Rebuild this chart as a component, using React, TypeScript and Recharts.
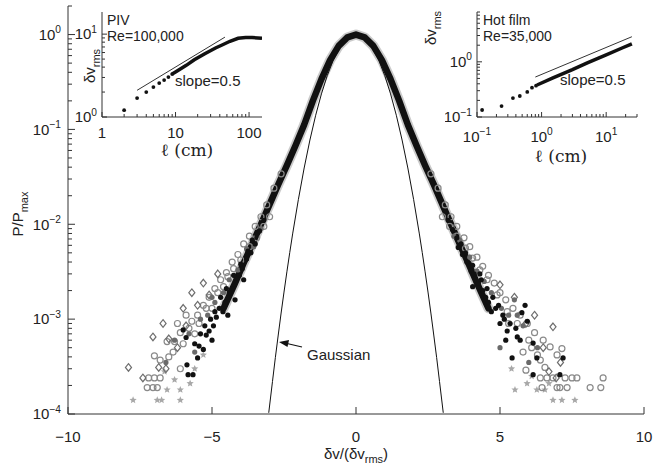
import React from 'react';
import { ComposedChart, Line, Scatter, XAxis, YAxis } from 'recharts';

const FONT = '"Liberation Sans", Arial, Helvetica, sans-serif';
const SERIF = '"DejaVu Serif", "Liberation Serif", serif';
const INK = '#222';
const FRAME = '#333';

// ---------------- main panel ----------------
const mainXTicks = [-10, -5, 0, 5, 10];
const mainXTopTicks = [-5, 0, 5];
const mainYMajor = [1e-4, 1e-3, 1e-2, 1e-1, 1];
const mainYTicks = [
  1e-4, 2e-4, 3e-4, 4e-4, 5e-4, 6e-4, 7e-4, 8e-4, 9e-4,
  1e-3, 2e-3, 3e-3, 4e-3, 5e-3, 6e-3, 7e-3, 8e-3, 9e-3,
  1e-2, 2e-2, 3e-2, 4e-2, 5e-2, 6e-2, 7e-2, 8e-2, 9e-2,
  1e-1, 2e-1, 3e-1, 4e-1, 5e-1, 6e-1, 7e-1, 8e-1, 9e-1,
  1, 2,
];

// collapsed PDF band (dense centre of all data sets)
const bandX = [-4.6, -4.2, -3.9, -3.6, -3.3, -3.0, -2.7, -2.4, -2.1, -1.8, -1.5, -1.2, -0.9, -0.6, -0.3, 0, 0.3, 0.6, 0.9, 1.2, 1.5, 1.8, 2.1, 2.4, 2.7, 3.0, 3.3, 3.6, 3.9, 4.2, 4.6];
const bandP = [0.0013, 0.0024, 0.0039, 0.0062, 0.01, 0.0162, 0.0263, 0.0417, 0.0676, 0.112, 0.2, 0.339, 0.537, 0.759, 0.933, 1.0, 0.933, 0.759, 0.537, 0.339, 0.2, 0.112, 0.0676, 0.0417, 0.0263, 0.0162, 0.01, 0.0062, 0.0039, 0.0024, 0.0013];

// Gaussian reference curve
const gaussX = [-3.03, -2.9, -2.8, -2.7, -2.6, -2.5, -2.4, -2.3, -2.2, -2.0, -1.8, -1.6, -1.4, -1.2, -1.0, -0.8, -0.6, -0.4, -0.2, 0, 0.2, 0.4, 0.6, 0.8, 1.0, 1.2, 1.4, 1.6, 1.8, 2.0, 2.2, 2.3, 2.4, 2.5, 2.6, 2.7, 2.8, 2.9, 3.03];
const gaussP = [1.03e-4, 2.2e-4, 3.94e-4, 6.8e-4, 1.16e-3, 1.93e-3, 3.15e-3, 5.04e-3, 7.91e-3, 0.0183, 0.0392, 0.0773, 0.141, 0.237, 0.368, 0.527, 0.698, 0.852, 0.961, 1, 0.961, 0.852, 0.698, 0.527, 0.368, 0.237, 0.141, 0.0773, 0.0392, 0.0183, 7.91e-3, 5.04e-3, 3.15e-3, 1.93e-3, 1.16e-3, 6.8e-4, 3.94e-4, 2.2e-4, 1.03e-4];

// tail markers, [x, P/Pmax]
const blackDots: number[][] = [
  [-3.5, 0.0062], [-3.65, 0.005], [-3.8, 0.0043], [-3.95, 0.0034], [-4.05, 0.0029], [-4.15, 0.0027], [-4.3, 0.0021], [-4.4, 0.0019], [-4.55, 0.0015], [-4.62, 0.0012], [-4.75, 0.0013], [-4.85, 0.00105], [-4.95, 0.00085], [-5.0, 0.0006], [-5.1, 0.00075], [-5.2, 0.00068], [-5.3, 0.00048], [-5.45, 0.00052], [-5.5, 0.00039], [-5.66, 0.00026], [-5.83, 0.00026], [-5.87, 0.00033], [-5.9, 0.00064], [-6.0, 0.00077], [-4.45, 0.0011], [-4.2, 0.0016], [-3.9, 0.0026],
  [-3.2, 0.011], [-3.35, 0.0085], [-3.45, 0.0078], [-3.6, 0.0068], [-3.75, 0.0052], [-4.0, 0.0038], [-4.25, 0.0029], [-4.5, 0.0021], [-4.7, 0.0017], [-4.9, 0.0012], [-5.05, 0.001], [-5.25, 0.00085], [-5.4, 0.0007], [-5.6, 0.00055],
  [3.55, 0.0057], [3.7, 0.0048], [3.85, 0.004], [4.0, 0.0032], [4.1, 0.003], [4.25, 0.0024], [4.35, 0.0026], [4.5, 0.0017], [4.6, 0.0015], [4.7, 0.0012], [4.85, 0.0013], [5.0, 0.0009], [5.1, 0.0011], [5.25, 0.00075], [5.42, 0.00039], [5.6, 0.00065], [5.76, 0.00117], [5.87, 0.0014], [6.15, 0.00056], [6.28, 0.00039], [7.19, 0.00039], [6.15, 0.00026], [7.08, 0.00026], [5.2, 0.0006], [4.4, 0.002], [4.05, 0.0022],
  [3.2, 0.011], [3.35, 0.0088], [3.5, 0.0072], [3.65, 0.0062], [3.8, 0.005], [4.05, 0.0037], [4.3, 0.003], [4.55, 0.0021], [4.75, 0.0017], [4.95, 0.0014], [5.15, 0.001], [5.35, 0.0009], [5.55, 0.0008], [5.7, 0.0006], [5.95, 0.00095],
];
const greyCircles: number[][] = [
  [-2.6, 0.034], [-2.85, 0.024], [-3.1, 0.016], [-3.3, 0.012], [-3.5, 0.0095], [-3.7, 0.0075], [-3.9, 0.0062], [-4.1, 0.0048], [-4.3, 0.004], [-4.5, 0.0031], [-4.7, 0.0026], [-4.9, 0.0021], [-5.1, 0.0017], [-5.3, 0.0014], [-5.5, 0.0011], [-5.7, 0.00095], [-5.9, 0.0011], [-6.1, 0.00072], [-6.3, 0.00058], [-6.56, 0.00058], [-6.8, 0.00037], [-7.0, 0.00041], [-6.35, 0.00045], [-6.1, 0.0003], [-7.2, 0.00024], [-7.0, 0.00024], [-6.8, 0.00024], [-7.25, 0.00019], [-7.05, 0.00019], [-6.9, 0.00019], [-4.6, 0.0022], [-5.0, 0.0013], [-5.6, 0.0007],
  [-3.0, 0.012], [-3.2, 0.0095], [-3.45, 0.0072], [-3.7, 0.0058], [-4.0, 0.0042], [-4.25, 0.0034], [-4.45, 0.0028], [-4.8, 0.0019], [-5.2, 0.0013], [-5.45, 0.0009], [-5.8, 0.0008], [-6.0, 0.00055], [-6.5, 0.0004], [-6.2, 0.0009],
  [2.6, 0.034], [2.85, 0.024], [3.1, 0.016], [3.3, 0.012], [3.5, 0.0095], [3.75, 0.0072], [3.95, 0.0058], [4.2, 0.0045], [4.4, 0.0036], [4.6, 0.0029], [4.8, 0.0024], [5.0, 0.0019], [5.2, 0.0016], [5.45, 0.0013], [5.7, 0.0011], [5.95, 0.0009], [6.2, 0.00072], [6.74, 0.00051], [7.15, 0.00049], [6.98, 0.00042], [6.4, 0.00037], [6.56, 0.00031], [5.9, 0.00029], [6.4, 0.00024], [6.63, 0.00024], [6.84, 0.00024], [7.26, 0.00024], [7.5, 0.00024], [7.67, 0.00024], [8.58, 0.00024], [8.13, 0.00019], [8.5, 0.00019], [6.46, 0.00019], [6.98, 0.00019], [7.08, 0.00019], [7.33, 0.00019], [6.5, 0.0006], [5.3, 0.0009],
  [3.0, 0.012], [3.25, 0.0095], [3.5, 0.0075], [3.8, 0.0056], [4.05, 0.0044], [4.3, 0.0033], [4.55, 0.0026], [4.9, 0.0018], [5.25, 0.0012], [5.6, 0.0009], [6.0, 0.0006], [6.3, 0.00042], [5.8, 0.00045], [6.1, 0.0005],
];
const greyDiamonds: number[][] = [
  [-7.9, 0.00031], [-7.05, 0.00065], [-6.7, 0.0009], [-6.5, 0.00062], [-6.2, 0.0005], [-5.9, 0.00085], [-5.5, 0.0014], [-5.1, 0.0018], [-6.85, 0.00031], [-6.0, 0.0013], [-5.7, 0.0019], [-5.3, 0.0024], [-4.8, 0.003], [-7.4, 0.00024], [-6.6, 0.0003],
  [6.84, 0.00083], [6.5, 0.0005], [5.9, 0.0009], [6.2, 0.0011], [5.5, 0.0017], [7.1, 0.00035], [6.95, 0.00024], [5.0, 0.0023], [6.7, 0.00028],
];
const greyStars: number[][] = [
  [-7.74, 0.00014], [-6.9, 0.00014], [-6.75, 0.00014], [-6.1, 0.00014], [-6.56, 0.00018], [-6.1, 0.00018], [-5.76, 0.00021], [-6.3, 0.00023], [-6.65, 0.00028], [-5.6, 0.0003], [-5.3, 0.00042],
  [5.52, 0.00018], [6.28, 0.00018], [6.56, 0.00018], [6.84, 0.00014], [7.15, 0.00014], [7.6, 0.00014], [5.94, 0.00021], [6.1, 0.00025], [6.7, 0.00021], [5.4, 0.0003],
];
const greyDots: number[][] = [
  [-5.4, 0.001], [-5.8, 0.0007], [-6.3, 0.0006], [-4.9, 0.0015], [-6.6, 0.00035], [-5.6, 0.00045], [-4.4, 0.0026], [-3.8, 0.0055], [-3.3, 0.009],
  [-3.55, 0.0058], [-4.1, 0.0033], [-4.6, 0.0019], [-5.15, 0.0011], [-5.0, 0.0017],
  [5.0, 0.0005], [5.3, 0.0011], [5.8, 0.00085], [6.3, 0.0005], [5.5, 0.0016], [4.7, 0.0019], [6.0, 0.00035], [4.2, 0.0032], [3.6, 0.0068],
  [3.4, 0.0075], [3.95, 0.0045], [4.45, 0.0025], [5.05, 0.0013], [5.6, 0.0011],
];

// ---------------- PIV inset ----------------
const pivXMajor = [1, 10, 100];
const pivXTicks = [1, 2, 3, 4, 5, 6, 7, 8, 9, 10, 20, 30, 40, 50, 60, 70, 80, 90, 100];
const pivYMajor = [1, 10];
const pivYTicks = [1, 2, 3, 4, 5, 6, 7, 8, 9, 10];
const pivDotL = [2, 3, 4, 5, 6, 7, 8, 9];
const pivDotV = [1.21, 1.69, 2.0, 2.3, 2.57, 2.79, 3.03, 3.3];
const pivCurveL = [9, 10, 14, 18, 25, 35, 43, 55, 71, 90, 110, 150];
const pivCurveV = [3.3, 3.5, 4.2, 4.9, 5.8, 6.8, 7.4, 8.2, 8.9, 9.1, 9.1, 8.9];
const pivSlopeL = [3, 47];
const pivSlopeV = [2.1, 9.2];

// ---------------- Hot film inset ----------------
const hfXMajor = [0.1, 1, 10];
const hfXTicks = [0.1, 0.2, 0.3, 0.4, 0.5, 0.6, 0.7, 0.8, 0.9, 1, 2, 3, 4, 5, 6, 7, 8, 9, 10, 20, 30];
const hfYMajor = [0.1, 1];
const hfYTicks = [0.1, 0.2, 0.3, 0.4, 0.5, 0.6, 0.7, 0.8, 0.9, 1, 2, 3, 4, 5, 6, 7, 8];
const hfDotL = [0.12, 0.24, 0.36, 0.46, 0.6, 0.71, 0.82];
const hfDotV = [0.134, 0.158, 0.22, 0.24, 0.285, 0.34, 0.37];
const hfCurveL = [0.85, 1.5, 3, 5.1, 10, 18, 25];
const hfCurveV = [0.38, 0.51, 0.72, 0.96, 1.34, 1.8, 2.12];
const hfSlopeL = [0.8, 25];
const hfSlopeV = [0.53, 2.85];

// ---------------- helpers ----------------
const pts = (arr: number[][]) => arr.map(([x, p]) => ({ x, p }));
const zipXP = (xs: number[], ps: number[]) => xs.map((x, i) => ({ x, p: ps[i] }));
const zipLV = (ls: number[], vs: number[]) => ls.map((l, i) => ({ l, v: vs[i] }));

const supOf = (v: number) => {
  const e = Math.round(Math.log10(v));
  return e < 0 ? '\u2212' + Math.abs(e) : String(e);
};
const numLabel = (v: number) => (v < 0 ? '\u2212' + Math.abs(v) : String(v));

type Side = 'left' | 'right' | 'top' | 'bottom';
function makeTick(
  side: Side,
  majors: number[],
  majorLen: number,
  minorLen: number,
  label?: { kind: 'pow' | 'num'; off: number; fs: number }
) {
  return (props: any) => {
    const { x, y, payload } = props;
    const v = payload.value;
    const major = majors.includes(v);
    const len = major ? majorLen : minorLen;
    let ln: React.ReactNode = null;
    if (side === 'left') ln = <line x1={x} y1={y} x2={x + len} y2={y} stroke={FRAME} strokeWidth={1} />;
    if (side === 'right') ln = <line x1={x} y1={y} x2={x - len} y2={y} stroke={FRAME} strokeWidth={1} />;
    if (side === 'bottom') ln = <line x1={x} y1={y} x2={x} y2={y - len} stroke={FRAME} strokeWidth={1} />;
    if (side === 'top') ln = <line x1={x} y1={y} x2={x} y2={y + len} stroke={FRAME} strokeWidth={1} />;
    let tx: React.ReactNode = null;
    if (label && major) {
      const fs = label.fs;
      const body =
        label.kind === 'pow' ? (
          <>
            10<tspan dy={-fs * 0.45} fontSize={fs * 0.68}>{supOf(v)}</tspan>
          </>
        ) : (
          numLabel(v)
        );
      if (side === 'left')
        tx = (
          <text x={x - label.off} y={y + fs * 0.35} textAnchor="end" fontSize={fs} fill={INK} fontFamily={FONT}>
            {body}
          </text>
        );
      if (side === 'bottom')
        tx = (
          <text x={x} y={y + label.off} textAnchor="middle" fontSize={fs} fill={INK} fontFamily={FONT}>
            {body}
          </text>
        );
    }
    return (
      <g>
        {ln}
        {tx}
      </g>
    );
  };
}

const dotShape = (r: number, fill: string) => (p: any) => <circle cx={p.cx} cy={p.cy} r={r} fill={fill} />;
const ringShape = (r: number, stroke: string) => (p: any) => (
  <circle cx={p.cx} cy={p.cy} r={r} fill="none" stroke={stroke} strokeWidth={1.2} />
);
const diamondShape = (s: number, stroke: string) => (p: any) => (
  <path
    d={`M${p.cx},${p.cy - s}L${p.cx + s * 0.8},${p.cy}L${p.cx},${p.cy + s}L${p.cx - s * 0.8},${p.cy}Z`}
    fill="none"
    stroke={stroke}
    strokeWidth={1.2}
  />
);
const starShape = (R: number, fill: string) => (p: any) => {
  let d = '';
  for (let i = 0; i < 10; i++) {
    const r = i % 2 === 0 ? R : R * 0.45;
    const a = -Math.PI / 2 + (i * Math.PI) / 5;
    d += (i === 0 ? 'M' : 'L') + (p.cx + r * Math.cos(a)).toFixed(2) + ',' + (p.cy + r * Math.sin(a)).toFixed(2);
  }
  return <path d={d + 'Z'} fill={fill} />;
};

function MainChart() {
  return (
    <ComposedChart width={654} height={464} margin={{ top: 6, right: 10, bottom: 0, left: 0 }}>
      <XAxis
        xAxisId="b" type="number" dataKey="x" domain={[-10, 10]} allowDataOverflow ticks={mainXTicks} interval={0}
        tickSize={0} tickMargin={0} height={50} tickLine={false} axisLine={{ stroke: FRAME }}
        tick={makeTick('bottom', mainXTicks, 7, 4, { kind: 'num', off: 28, fs: 15 })}
      />
      <XAxis
        xAxisId="t" orientation="top" type="number" dataKey="x" domain={[-10, 10]} allowDataOverflow ticks={mainXTopTicks}
        interval={0} tickSize={0} tickMargin={0} height={0} tickLine={false} axisLine={{ stroke: FRAME }}
        tick={makeTick('top', mainXTopTicks, 7, 4)}
      />
      <YAxis
        yAxisId="l" type="number" dataKey="p" scale="log" domain={[1e-4, 2]} allowDataOverflow ticks={mainYTicks} interval={0}
        tickSize={0} tickMargin={0} width={68} tickLine={false} axisLine={{ stroke: FRAME }}
        tick={makeTick('left', mainYMajor, 7, 4, { kind: 'pow', off: 7, fs: 15 })}
      />
      <YAxis
        yAxisId="r" orientation="right" type="number" dataKey="p" scale="log" domain={[1e-4, 2]} allowDataOverflow
        ticks={mainYTicks} interval={0} tickSize={0} tickMargin={0} width={0} tickLine={false} axisLine={{ stroke: FRAME }}
        tick={makeTick('right', mainYMajor, 7, 4)}
      />
      <Line xAxisId="b" yAxisId="l" data={zipXP(bandX, bandP)} dataKey="p" stroke="#8a8a8a" strokeOpacity={0.45} strokeWidth={10} strokeLinecap="round" strokeLinejoin="round" dot={false} isAnimationActive={false} />
      <Scatter xAxisId="b" yAxisId="l" data={pts(greyStars)} dataKey="p" shape={starShape(3.8, '#a8a8a8')} isAnimationActive={false} />
      <Scatter xAxisId="b" yAxisId="l" data={pts(greyCircles)} dataKey="p" shape={ringShape(3, '#8a8a8a')} isAnimationActive={false} />
      <Scatter xAxisId="b" yAxisId="l" data={pts(greyDiamonds)} dataKey="p" shape={diamondShape(3.8, '#6e6e6e')} isAnimationActive={false} />
      <Scatter xAxisId="b" yAxisId="l" data={pts(greyDots)} dataKey="p" shape={dotShape(2.6, '#6a6a6a')} isAnimationActive={false} />
      <Line xAxisId="b" yAxisId="l" data={zipXP(bandX, bandP)} dataKey="p" stroke="#111" strokeWidth={6.5} strokeLinecap="round" strokeLinejoin="round" dot={false} isAnimationActive={false} />
      <Scatter xAxisId="b" yAxisId="l" data={pts(blackDots)} dataKey="p" shape={dotShape(2.6, '#111')} isAnimationActive={false} />
      <Line xAxisId="b" yAxisId="l" data={zipXP(gaussX, gaussP)} dataKey="p" stroke="#111" strokeWidth={1} dot={false} isAnimationActive={false} />
    </ComposedChart>
  );
}

function Inset(props: {
  width: number; height: number; right: number; xDomain: number[]; yDomain: number[];
  xTicks: number[]; xMajor: number[]; yTicks: number[]; yMajor: number[]; xKind: 'pow' | 'num'; xOff: number;
  dots: { l: number; v: number }[]; curve: { l: number; v: number }[]; slope: { l: number; v: number }[];
}) {
  const { width, height, right, xDomain, yDomain, xTicks, xMajor, yTicks, yMajor, xKind, xOff, dots, curve, slope } = props;
  return (
    <ComposedChart width={width} height={height} margin={{ top: 12, right, bottom: 0, left: 0 }}>
      <XAxis
        xAxisId="b" type="number" dataKey="l" scale="log" domain={xDomain} allowDataOverflow ticks={xTicks} interval={0}
        tickSize={0} tickMargin={0} height={height - 117} tickLine={false} axisLine={{ stroke: FRAME }}
        tick={makeTick('bottom', xMajor, 5, 3, { kind: xKind, off: xOff, fs: 15 })}
      />
      <XAxis
        xAxisId="t" orientation="top" type="number" dataKey="l" scale="log" domain={xDomain} allowDataOverflow ticks={xTicks}
        interval={0} tickSize={0} tickMargin={0} height={0} tickLine={false} axisLine={{ stroke: FRAME }}
        tick={makeTick('top', xMajor, 5, 3)}
      />
      <YAxis
        yAxisId="l" type="number" dataKey="v" scale="log" domain={yDomain} allowDataOverflow ticks={yTicks} interval={0}
        tickSize={0} tickMargin={0} width={32} tickLine={false} axisLine={{ stroke: FRAME }}
        tick={makeTick('left', yMajor, 5, 3, { kind: 'pow', off: 5, fs: 15 })}
      />
      <YAxis
        yAxisId="r" orientation="right" type="number" dataKey="v" scale="log" domain={yDomain} allowDataOverflow ticks={yTicks}
        interval={0} tickSize={0} tickMargin={0} width={0} tickLine={false} axisLine={{ stroke: FRAME }}
        tick={makeTick('right', yMajor, 5, 3)}
      />
      <Line xAxisId="b" yAxisId="l" data={slope} dataKey="v" stroke="#333" strokeWidth={1} dot={false} isAnimationActive={false} />
      <Line xAxisId="b" yAxisId="l" data={curve} dataKey="v" stroke="#111" strokeWidth={3.5} dot={false} isAnimationActive={false} />
      <Scatter xAxisId="b" yAxisId="l" data={dots} dataKey="v" shape={dotShape(1.9, '#111')} isAnimationActive={false} />
    </ComposedChart>
  );
}

export default function App() {
  const t = { fontFamily: FONT, fill: INK } as const;
  return (
    <div style={{ position: 'absolute', left: 0, top: 0, width: 654, height: 464, background: '#fff', overflow: 'hidden' }}>
      <div style={{ position: 'absolute', left: 0, top: 0 }}>
        <MainChart />
      </div>
      <div style={{ position: 'absolute', left: 102, top: 12, width: 160, height: 105, background: '#fff' }} />
      <div style={{ position: 'absolute', left: 477, top: 12, width: 160, height: 105, background: '#fff' }} />
      <div style={{ position: 'absolute', left: 70, top: 0 }}>
        <Inset
          width={200} height={170} right={8} xDomain={[1, 150]} yDomain={[1, 18.5]}
          xTicks={pivXTicks} xMajor={pivXMajor} yTicks={pivYTicks} yMajor={pivYMajor} xKind="num" xOff={21}
          dots={zipLV(pivDotL, pivDotV)} curve={zipLV(pivCurveL, pivCurveV)} slope={zipLV(pivSlopeL, pivSlopeV)}
        />
      </div>
      <div style={{ position: 'absolute', left: 445, top: 0 }}>
        <Inset
          width={209} height={175} right={17} xDomain={[0.1, 30]} yDomain={[0.1, 8]}
          xTicks={hfXTicks} xMajor={hfXMajor} yTicks={hfYTicks} yMajor={hfYMajor} xKind="pow" xOff={25}
          dots={zipLV(hfDotL, hfDotV)} curve={zipLV(hfCurveL, hfCurveV)} slope={zipLV(hfSlopeL, hfSlopeV)}
        />
      </div>
      <svg width={654} height={464} style={{ position: 'absolute', left: 0, top: 0, pointerEvents: 'none' }}>
        {/* inset annotations */}
        <text x={107} y={25} fontSize={14} {...t}>PIV</text>
        <text x={107} y={41} fontSize={14} {...t}>Re=100,000</text>
        <text x={175} y={86} fontSize={15} {...t}>slope=0.5</text>
        <text x={483} y={25} fontSize={14} {...t}>Hot film</text>
        <text x={483} y={41} fontSize={14} {...t}>Re=35,000</text>
        <text x={560} y={85} fontSize={15} {...t}>slope=0.5</text>
        <text x={187} y={156} fontSize={17} textAnchor="middle" fontFamily={SERIF} fill={INK}>ℓ (cm)</text>
        <text x={561} y={162} fontSize={17} textAnchor="middle" fontFamily={SERIF} fill={INK}>ℓ (cm)</text>
        <text transform="translate(95,66) rotate(-90)" textAnchor="middle" fontSize={15} {...t}>
          δv<tspan dy={5} fontSize={11}>rms</tspan>
        </text>
        <text transform="translate(436,28) rotate(-90)" textAnchor="middle" fontSize={15} {...t}>
          δv<tspan dy={5} fontSize={11}>rms</tspan>
        </text>
        {/* Gaussian callout */}
        <line x1={302} y1={347} x2={287} y2={343.5} stroke="#111" strokeWidth={1.2} />
        <path d="M279,342 L289,340 L287.5,347 Z" fill="#111" />
        <text x={307} y={360} fontSize={15} {...t}>Gaussian</text>
        {/* main axis titles */}
        <text x={356} y={459} textAnchor="middle" fontSize={15} {...t}>
          δv/(δv<tspan dy={4} fontSize={11}>rms</tspan><tspan dy={-4}>)</tspan>
        </text>
        <text transform="translate(23,214) rotate(-90)" textAnchor="middle" fontSize={15} {...t}>
          P/P<tspan dy={5} fontSize={11}>max</tspan>
        </text>
      </svg>
    </div>
  );
}
